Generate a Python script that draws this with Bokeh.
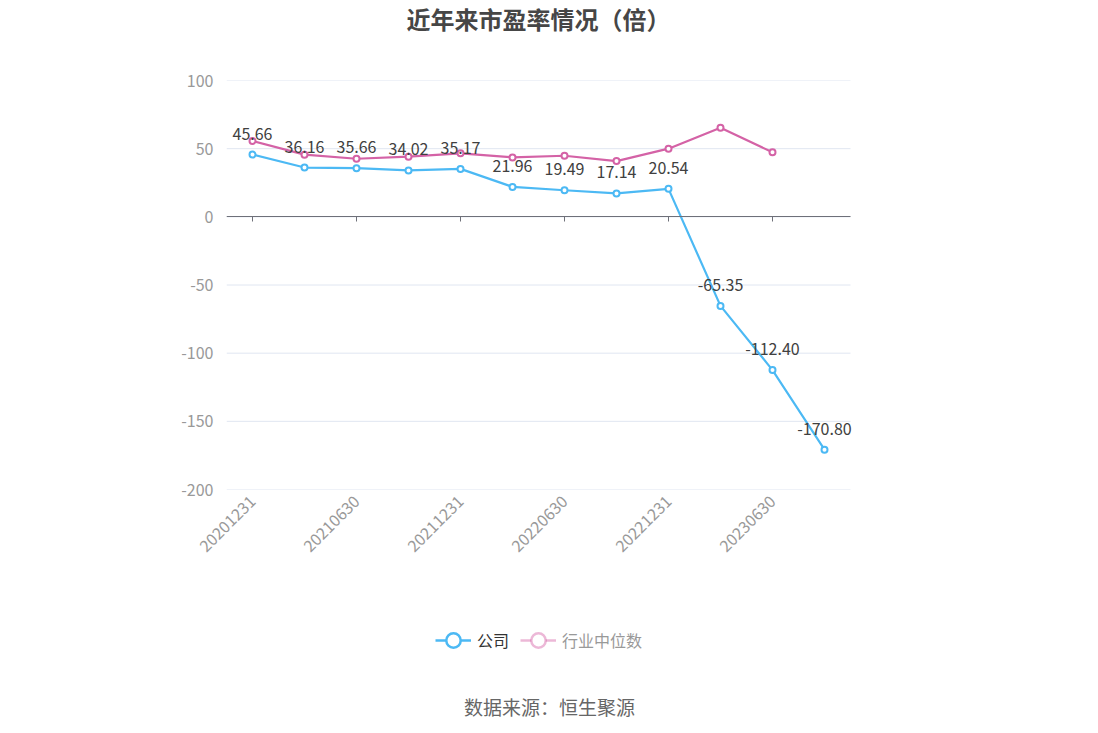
import math
from bokeh.plotting import figure
from bokeh.layouts import column
from bokeh.models import (Range1d, FixedTicker, LinearAxis, Label, Legend, LegendItem,
                          ColumnDataSource)
from bokeh.core.properties import value
from bokeh.embed import file_html
from bokeh.resources import INLINE

dates = ["20201231", "20210331", "20210630", "20210930", "20211231", "20220331",
         "20220630", "20220930", "20221231", "20230331", "20230630", "20230930"]
company = [45.66, 36.16, 35.66, 34.02, 35.17, 21.96, 19.49, 17.14, 20.54, -65.35, -112.40, -170.80]
industry = [55.7, 45.6, 42.6, 44.1, 46.6, 43.6, 44.8, 40.9, 50.0, 65.3, 47.3]
tick_labels = ["20201231", "20210630", "20211231", "20220630", "20221231", "20230630"]
y_ticks = [100, 50, 0, -50, -100, -150, -200]
series_names = ["公司", "行业中位数"]
title_text = "近年来市盈率情况（倍）"
source_text = "数据来源：恒生聚源"

BLUE = "#4CB9F4"
PINK = "#D462A6"
FONT = "Noto Sans CJK SC"
W = 1098
# all figures in the column share the same frame: x from 226 to 870 px
BORDER_L, BORDER_R = 226, 228

idx = list(range(len(dates)))
ind_x = list(range(len(industry)))
cat_lo, cat_hi = idx[0] - 0.5, idx[-1] + 0.5          # category band edges
X_START, X_END = cat_lo, cat_hi + 20 / 52.0            # extra room for the last label

# ---------- header ----------
header = figure(width=W, height=60, output_backend="svg", toolbar_location=None,
                x_range=Range1d(0, 1), y_range=Range1d(0, 1),
                min_border_left=BORDER_L, min_border_right=BORDER_R,
                min_border_top=0, min_border_bottom=0,
                x_axis_location=None, y_axis_location=None)
header.outline_line_color = None
header.grid.visible = False
header.add_layout(Label(x=312, y=42, x_units="screen", y_units="screen",
                        text=title_text, text_align="center",
                        text_baseline="middle", text_font=FONT, text_font_size="24px",
                        text_font_style="bold", text_color="#464646"))

# ---------- main chart ----------
p = figure(width=W, height=540, output_backend="svg", toolbar_location=None,
           x_range=Range1d(X_START, X_END), y_range=Range1d(-200, 100),
           min_border_left=BORDER_L, min_border_right=BORDER_R, min_border_top=20,
           min_border_bottom=111)
p.outline_line_color = None
p.grid.visible = False

# horizontal grid lines over the category area only
p.segment(x0=[cat_lo] * len(y_ticks), x1=[cat_hi] * len(y_ticks), y0=y_ticks, y1=y_ticks,
          line_color="#E0E6F1", line_width=1)

p.yaxis.ticker = FixedTicker(ticks=y_ticks)
p.yaxis.major_label_overrides = {v: str(v) for v in y_ticks}
p.yaxis.axis_line_color = None
p.yaxis.major_tick_line_color = None
p.yaxis.minor_tick_line_color = None
p.yaxis.major_label_text_color = "#999999"
p.yaxis.major_label_text_font = FONT
p.yaxis.major_label_text_font_size = "16px"
p.yaxis.major_label_standoff = 7

label_idx = [dates.index(t) for t in tick_labels]
p.xaxis.ticker = FixedTicker(ticks=label_idx)
p.xaxis.major_label_overrides = {i: dates[i] for i in label_idx}
p.xaxis.axis_line_color = None
p.xaxis.major_tick_line_color = None
p.xaxis.minor_tick_line_color = None
p.xaxis.major_label_orientation = math.pi / 4
p.xaxis.major_label_text_color = "#999999"
p.xaxis.major_label_text_font = FONT
p.xaxis.major_label_text_font_size = "16px"
p.xaxis.major_label_standoff = 3

zero_axis = LinearAxis(fixed_location=0, ticker=FixedTicker(ticks=label_idx),
                       major_label_overrides={i: "" for i in label_idx},
                       bounds=(cat_lo, cat_hi))
zero_axis.axis_line_color = "#6E7079"
zero_axis.major_tick_line_color = "#6E7079"
zero_axis.major_tick_in = 0
zero_axis.major_tick_out = 5
zero_axis.minor_tick_line_color = None
zero_axis.major_label_text_font_size = "1px"
p.add_layout(zero_axis, "below")

p.line(ind_x, industry, line_color=PINK, line_width=2.2)
p.scatter(ind_x, industry, size=6, fill_color="white", line_color=PINK, line_width=2)
p.line(idx, company, line_color=BLUE, line_width=2.2)
p.scatter(idx, company, size=6, fill_color="white", line_color=BLUE, line_width=2)

src = ColumnDataSource(dict(x=idx, y=company, t=["%.2f" % v for v in company]))
p.text(x="x", y="y", text="t", source=src, text_align="center",
       text_baseline="bottom", y_offset=-15, text_color="#404040",
       text_font_size="16px", text_font=value(FONT))

# ---------- footer: legend + source ----------
# ranges placed away from the data so that the legend renderers stay out of view
footer = figure(width=W, height=133, output_backend="svg", toolbar_location=None,
                x_range=Range1d(1000, 1001), y_range=Range1d(1000, 1001),
                min_border_left=BORDER_L, min_border_right=BORDER_R,
                min_border_top=0, min_border_bottom=0,
                x_axis_location=None, y_axis_location=None)
footer.outline_line_color = None
footer.grid.visible = False

lb_line = footer.line(idx, company, line_color=BLUE, line_width=2.5)
lb_pt = footer.scatter(idx, company, fill_color="white", line_color=BLUE, line_width=2.5)
lp_line = footer.line(ind_x, industry, line_color=PINK, line_width=2.5, line_alpha=0.45)
lp_pt = footer.scatter(ind_x, industry, fill_color="white", line_color=PINK,
                       line_width=2.5, line_alpha=0.45)

common = dict(orientation="horizontal", glyph_width=36, glyph_height=36, padding=0,
              margin=0, spacing=0, label_standoff=6, border_line_color=None,
              background_fill_alpha=0, label_text_font=FONT, label_text_font_size="16px")
leg1 = Legend(items=[LegendItem(label=series_names[0], renderers=[lb_line, lb_pt])],
              location=(209, 75), label_text_color="#333333", **common)
leg2 = Legend(items=[LegendItem(label=series_names[1], renderers=[lp_line, lp_pt])],
              location=(294, 75), label_text_color="#999999", **common)
footer.add_layout(leg1, "center")
footer.add_layout(leg2, "center")

footer.add_layout(Label(x=323, y=27, x_units="screen", y_units="screen",
                        text=source_text, text_align="center",
                        text_baseline="middle", text_font=FONT, text_font_size="19px",
                        text_color="#666666"))

layout = column(header, p, footer, spacing=0)
open("out.html", "w").write(file_html(layout, INLINE))
